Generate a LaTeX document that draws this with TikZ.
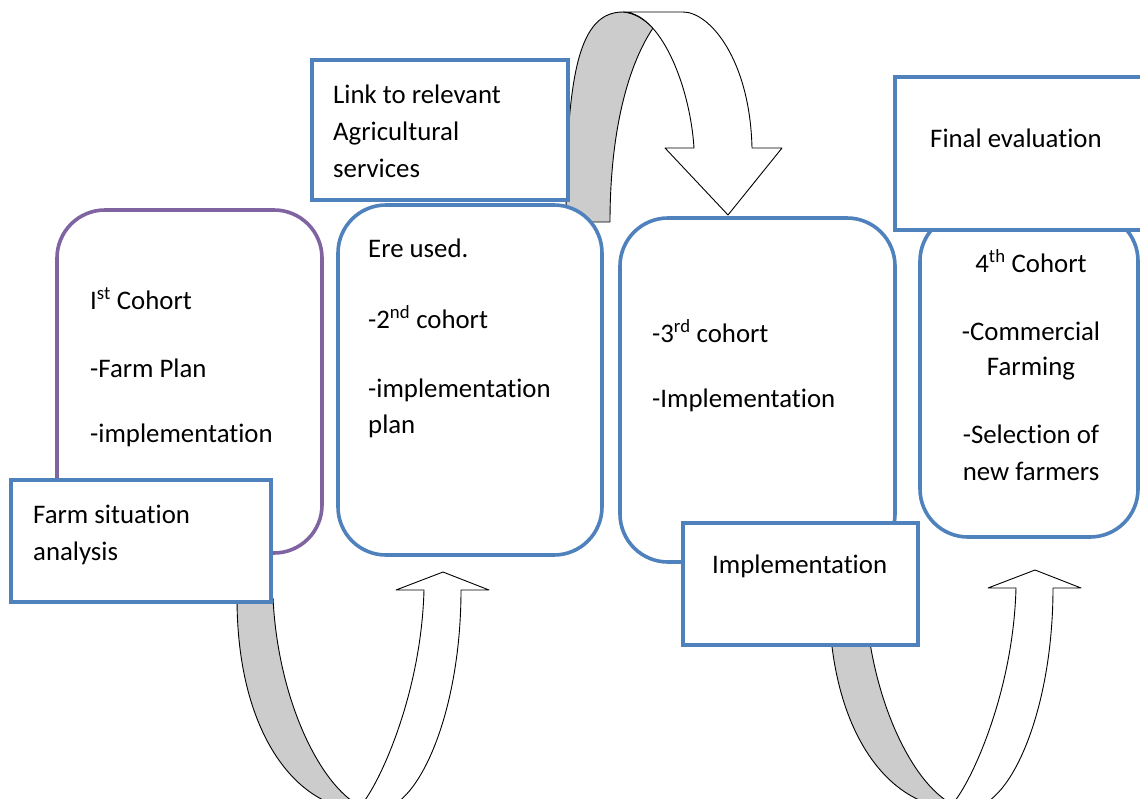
\documentclass[tikz,border=0pt]{standalone}
\usepackage{fontspec}
\setmainfont[Ligatures=NoCommon]{Carlito}
\definecolor{boxblue}{RGB}{79,129,189}
\definecolor{boxpurple}{RGB}{128,100,162}
\definecolor{backgray}{RGB}{204,204,204}
\tikzset{
  roundbox/.style={draw=boxblue, line width=3.6pt, fill=white, rounded corners=48pt, inner sep=0pt},
  purplebox/.style={roundbox, draw=boxpurple},
  labelbox/.style={draw=boxblue, line width=3.6pt, fill=white, inner sep=0pt},
  arrowline/.style={draw=black, line width=0.9pt, line join=round},
  backside/.style={arrowline, fill=backgray},
  frontside/.style={arrowline, fill=white},
  txt/.style={inner sep=0pt, anchor=base west, font=\fontsize{26.8}{37}\selectfont, text=black},
  txtc/.style={txt, anchor=base},
}
\begin{document}
\begin{tikzpicture}[x=1pt,y=-1pt]
\useasboundingbox (0,0) rectangle (1140,798);
\clip (0,0) rectangle (1140,798);
\fill[white] (0,0) rectangle (1140,798);

% top curved arrow (down)
\path[backside] (566,222) .. controls (566,70) and (580,12) .. (623,12)
  .. controls (635,13) and (645,20) .. (653,28)
  .. controls (625,70) and (610,140) .. (610,222) -- cycle;
\path[frontside] (623,12) -- (683,12) .. controls (710,12) and (750,60) .. (752,148)
  -- (782,148) -- (728,215) -- (665,148) -- (694,148)
  .. controls (690,85) and (660,12) .. (623,12) -- cycle;

% bottom curved arrows (up)
\foreach \dx/\dy in {0/0, 592/-2}{
  \begin{scope}[shift={(\dx,\dy)}]
  \path[backside] (237,598) .. controls (237,720) and (285,790) .. (338,806)
    -- (360,806) .. controls (320,785) and (278,700) .. (273,598) -- cycle;
  \path[frontside] (360,806) .. controls (375,792) and (421,700) .. (424,590)
    -- (396,590) -- (443,572) -- (489,590) -- (461,590)
    .. controls (461,710) and (420,806) .. (380,810) -- cycle;
  \end{scope}
}

% rounded cohort boxes
\node[purplebox, minimum width=265pt, minimum height=343pt] (c1) at (189.5,381.5) {};
\node[roundbox, minimum width=264pt, minimum height=350pt] (c2) at (470,380) {};
\node[roundbox, minimum width=275pt, minimum height=344pt] (c3) at (757.5,390) {};
\node[roundbox, minimum width=218pt, minimum height=324pt] (c4) at (1029,375) {};

% label boxes
\node[labelbox, minimum width=260pt, minimum height=122pt] (farm) at (141,541) {};
\node[labelbox, minimum width=256pt, minimum height=140pt] (link) at (440,130) {};
\node[labelbox, minimum width=235pt, minimum height=122pt] (impl) at (800.5,584) {};
\node[labelbox, minimum width=255pt, minimum height=153pt] (final) at (1022.5,153.5) {};

% texts
\node[txt] (t1a) at (90,309) {I\textsuperscript{st} Cohort};
\node[txt] (t1b) at (90,377) {-Farm Plan};
\node[txt] (t1c) at (90,442) {-implementation};

\node[txt] (tfa) at (33,523) {Farm situation};
\node[txt] (tfb) at (33,560) {analysis};

\node[txt] (tla) at (333,103) {Link to relevant};
\node[txt] (tlb) at (333,140) {Agricultural};
\node[txt] (tlc) at (333,177) {services};

\node[txt] (t2a) at (368,257) {Ere used.};
\node[txt] (t2b) at (368,328) {-2\textsuperscript{nd} cohort};
\node[txt] (t2c) at (368,397) {-implementation};
\node[txt] (t2d) at (368,433) {plan};

\node[txt] (t3a) at (652,342) {-3\textsuperscript{rd} cohort};
\node[txt] (t3b) at (652,407) {-Implementation};

\node[txt] (tia) at (712,573) {Implementation};

\node[txt] (tea) at (930,147) {Final evaluation};

\node[txtc] (t4a) at (1031,272) {4\textsuperscript{th} Cohort};
\node[txtc] (t4b) at (1031,340) {-Commercial};
\node[txtc] (t4c) at (1031,375) {Farming};
\node[txtc] (t4d) at (1031,443) {-Selection of};
\node[txtc] (t4e) at (1031,480) {new farmers};
\end{tikzpicture}
\end{document}
